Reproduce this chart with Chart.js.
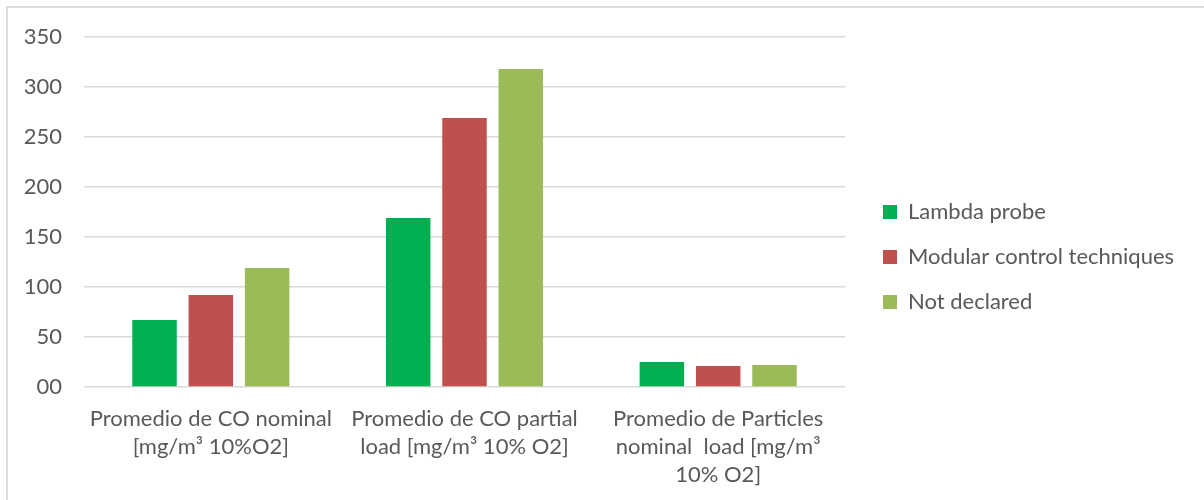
<!DOCTYPE html>
<html>
<head>
<meta charset="utf-8">
<script src="https://cdn.jsdelivr.net/npm/chart.js@4.4.1/dist/chart.umd.min.js"></script>
<style>
  html, body { margin: 0; padding: 0; background: #ffffff; }
  #wrap { position: relative; width: 1204px; height: 500px; overflow: hidden; }
  #frame { position: absolute; left: 6px; top: 6px; width: 1300px; height: 600px;
           border-left: 2px solid #dcdcdc; border-top: 2px solid #dcdcdc; pointer-events: none; }
  canvas { position: absolute; left: 0; top: 0; }
</style>
</head>
<body>
<div id="wrap">
  <canvas id="chart" width="1204" height="500"></canvas>
  <div id="frame"></div>
</div>
<script>
// Emission averages per control technique
const categories = [
  ["Promedio de CO nominal", "[mg/m³ 10%O2]"],
  ["Promedio de CO partial", "load [mg/m³ 10% O2]"],
  ["Promedio de Particles", "nominal  load [mg/m³", "10% O2]"]
];
const seriesNames = ["Lambda probe", "Modular control techniques", "Not declared"];
const lambdaProbe = [67, 169, 25];
const modularControl = [92, 269, 21];
const notDeclared = [119, 318, 22];
const yTickValues = [0, 50, 100, 150, 200, 250, 300, 350];
const yTickLabels = ["00", "50", "100", "150", "200", "250", "300", "350"];

const colors = ["#00B050", "#C0504D", "#9BBB59"];
const textColor = "#595959";
const gridColor = "#D9D9D9";
const fontFamily = "Lato, 'Open Sans', sans-serif";

const LEGEND_WIDTH = 359;   // space reserved right of the plot
const LEGEND_INSET = 15;    // extra gap between plot and legend items
const LEGEND_RAISE = 5.5;   // nudge legend block upward

const legendPlacement = {
  id: 'legendPlacement',
  afterInit(chart) {
    const lg = chart.legend;
    if (!lg) return;
    const baseFit = lg.fit;
    lg.fit = function () {
      baseFit.call(this);
      this.width = LEGEND_WIDTH;
    };
  },
  afterLayout(chart) {
    const lg = chart.legend;
    if (!lg) return;
    lg.left += LEGEND_INSET;
    lg.right += LEGEND_INSET;
    lg.top -= LEGEND_RAISE;
    lg.bottom -= LEGEND_RAISE;
  }
};

const ctx = document.getElementById('chart').getContext('2d');
new Chart(ctx, {
  type: 'bar',
  data: {
    labels: categories,
    datasets: [
      { label: seriesNames[0], data: lambdaProbe, backgroundColor: colors[0] },
      { label: seriesNames[1], data: modularControl, backgroundColor: colors[1] },
      { label: seriesNames[2], data: notDeclared, backgroundColor: colors[2] }
    ]
  },
  options: {
    responsive: false,
    animation: false,
    devicePixelRatio: 1,
    layout: { padding: { left: 8, right: 0, top: 37, bottom: 12 } },
    datasets: {
      bar: { categoryPercentage: 0.666, barPercentage: 0.79 }
    },
    plugins: {
      tooltip: { enabled: false },
      legend: {
        position: 'right',
        align: 'center',
        labels: {
          boxWidth: 14,
          boxHeight: 14,
          padding: 23,
          color: textColor,
          font: { family: fontFamily, size: 22 }
        }
      }
    },
    scales: {
      x: {
        grid: { display: false },
        border: { display: false },
        ticks: {
          color: textColor,
          padding: 10,
          maxRotation: 0,
          autoSkip: false,
          font: { family: fontFamily, size: 22, lineHeight: 1.27 }
        },
        afterFit(scale) { scale.height = 101; }
      },
      y: {
        min: 0,
        max: 350,
        afterBuildTicks(scale) {
          scale.ticks = yTickValues.map(v => ({ value: v }));
        },
        grid: { color: gridColor, lineWidth: 1.5, drawTicks: false },
        border: { display: false },
        ticks: {
          color: textColor,
          padding: 22,
          font: { family: fontFamily, size: 22 },
          callback(value) {
            const i = yTickValues.indexOf(value);
            return i >= 0 ? yTickLabels[i] : '';
          }
        },
        afterFit(scale) { scale.width = 76; }
      }
    }
  },
  plugins: [legendPlacement]
});
</script>
</body>
</html>
